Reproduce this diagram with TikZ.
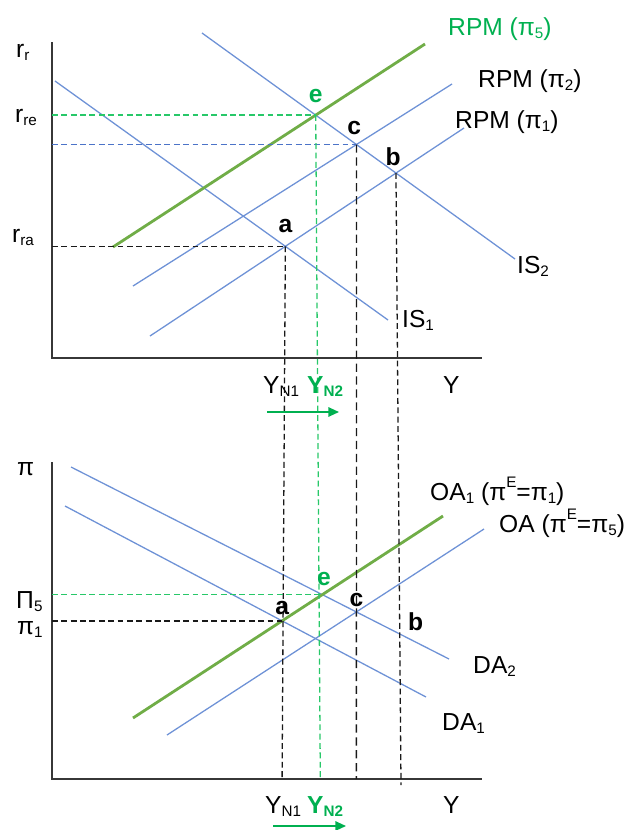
\documentclass[tikz,border=0pt]{standalone}
\usepackage{fontspec}
\setmainfont{Liberation Sans}
\usetikzlibrary{calc,positioning,arrows.meta}
\definecolor{xLineBlue}{RGB}{110,146,214}
\definecolor{xLineGreen}{RGB}{112,173,71}
\definecolor{xTextGreen}{RGB}{0,176,80}
\definecolor{xDashGreen}{RGB}{40,200,105}
\definecolor{xDashBlue}{RGB}{75,115,200}
\definecolor{xAxis}{RGB}{55,55,55}
\newcommand{\subtxt}[1]{\raisebox{-0.15em}{\fontsize{13}{13}\selectfont #1}}
\newcommand{\suptxt}[1]{\raisebox{0.5em}{\fontsize{13}{13}\selectfont #1}}

\begin{document}
\begin{tikzpicture}[x=0.03cm, y=-0.03cm,
    font=\fontsize{21}{25}\selectfont,
    axisline/.style={xAxis, line width=1.3pt},
    curve/.style={xLineBlue, line width=1.1pt},
    shiftcurve/.style={xLineGreen, line width=2.4pt},
    guideline/.style={black!90, line width=1.1pt, dash pattern=on 5pt off 3pt},
    guidegreen/.style={xDashGreen, line width=1.1pt, dash pattern=on 5pt off 3pt},
    guideblue/.style={xDashBlue, line width=1.1pt, dash pattern=on 5pt off 3pt},
    txt/.style={anchor=base west, inner sep=0pt},
    ptlabel/.style={font=\fontsize{21}{25}\selectfont\bfseries, inner sep=1pt},
    shiftarrow/.style={xTextGreen, line width=1.3pt, -{Triangle[length=9pt,width=8pt]}}]
    \useasboundingbox (0,0) rectangle (627,830);

    % top panel: IS and RPM
    \coordinate (yT) at (52,42);
    \coordinate (oT) at (52,358);
    \coordinate (xT) at (482,358);
    \draw[axisline] (yT) -- (oT) -- (xT);

    \coordinate (is1A) at (55,81);   \coordinate (is1B) at (388,320);
    \coordinate (is2A) at (202,33);  \coordinate (is2B) at (515,259);
    \coordinate (rpm1A) at (150,336); \coordinate (rpm1B) at (464,128);
    \coordinate (rpm2A) at (133,286); \coordinate (rpm2B) at (452,84);
    \coordinate (rpm5A) at (113,247); \coordinate (rpm5B) at (425,44);

    \draw[curve] (is1A) -- (is1B);
    \draw[curve] (is2A) -- (is2B);
    \draw[curve] (rpm1A) -- (rpm1B);
    \draw[curve] (rpm2A) -- (rpm2B);
    \draw[shiftcurve] (rpm5A) -- (rpm5B);

    \coordinate (a) at (intersection of is1A--is1B and rpm1A--rpm1B);
    \coordinate (b) at (intersection of is2A--is2B and rpm1A--rpm1B);
    \coordinate (c) at (intersection of is2A--is2B and rpm2A--rpm2B);
    \coordinate (e) at (intersection of is2A--is2B and rpm5A--rpm5B);

    % bottom panel: DA and OA
    \coordinate (yB) at (52,462);
    \coordinate (oB) at (52,779);
    \coordinate (xB) at (482,779);
    \draw[axisline] (yB) -- (oB) -- (xB);

    \coordinate (da1A) at (65,506);  \coordinate (da1B) at (426,697);
    \coordinate (da2A) at (71,467);  \coordinate (da2B) at (449,659);
    \coordinate (oa1A) at (133,718); \coordinate (oa1B) at (443,516);
    \coordinate (oa5A) at (167,735); \coordinate (oa5B) at (484,529);

    \draw[curve] (da1A) -- (da1B);
    \draw[curve] (da2A) -- (da2B);
    \draw[curve] (oa5A) -- (oa5B);
    \draw[shiftcurve] (oa1A) -- (oa1B);

    \coordinate (bEnd) at (401,785);
    \coordinate (a2) at (intersection of da1A--da1B and oa1A--oa1B);
    \coordinate (c2) at (intersection of da2A--da2B and oa5A--oa5B);
    \coordinate (e2) at (intersection of da2A--da2B and oa1A--oa1B);
    \coordinate (b2) at (intersection of da2A--da2B and b--bEnd);

    % dashed guides
    \draw[guidegreen] (oT |- e) -- (e);
    \draw[guideblue] (oT |- c) -- (c);
    \draw[guideline] (oT |- a) -- (a);
    \draw[guideline] (a) -- (a2 |- oB);
    \draw[guidegreen] (e) -- ($(e2 |- oB)+(-2,0)$);
    \draw[guideline, dash pattern=on 7pt off 4pt] (c) -- (c2 |- oB);
    \draw[guideline] (b) -- (bEnd);
    \draw[guidegreen] (oB |- e2) -- (e2);
    \draw[guideline] (oB |- a2) -- (a2);

    % point labels
    \node[ptlabel, xTextGreen, above=9.5pt of e] (labE) {e};
    \node[ptlabel, above=7.5pt of c, xshift=-2pt] (labC) {c};
    \node[ptlabel, above=5pt of b, xshift=-2.5pt] (labB) {b};
    \node[ptlabel, above=10pt of a] (labA) {a};
    \node[ptlabel, xTextGreen, above=6.5pt of e2, xshift=1.5pt] (labE2) {e};
    \node[ptlabel, above=3pt of c2] (labC2) {c};
    \node[ptlabel, above=4pt of a2] (labA2) {a};
    \node[ptlabel, above right=1.5pt and 6pt of b2] (labB2) {b};

    % axis texts
    \node[txt] (rr) at (16,57) {r\subtxt{r}};
    \node[txt] (rre) at (15,122) {r\subtxt{re}};
    \node[txt] (rra) at (12,242) {r\subtxt{ra}};
    \node[txt] (yn1T) at (263,393) {Y\subtxt{N1}};
    \node[txt, xTextGreen, font=\fontsize{21}{25}\selectfont\bfseries] (yn2T) at (307,393) {Y\subtxt{N2}};
    \node[txt] (yT) at (443,393) {Y};
    \node[txt] (piAx) at (17,475) {π};
    \node[txt] (pi5) at (16,608) {Π\subtxt{5}};
    \node[txt] (pi1) at (17,634) {π\subtxt{1}};
    \node[txt] (yn1B) at (265,813) {Y\subtxt{N1}};
    \node[txt, xTextGreen, font=\fontsize{21}{25}\selectfont\bfseries] (yn2B) at (307,813) {Y\subtxt{N2}};
    \node[txt] (yB) at (443,813) {Y};

    % curve texts
    \node[txt, xTextGreen] (rpm5) at (448,35) {RPM (π\subtxt{5})};
    \node[txt] (rpm2) at (478,87) {RPM (π\subtxt{2})};
    \node[txt] (rpm1) at (455,128) {RPM (π\subtxt{1})};
    \node[txt] (is2) at (517,273) {IS\subtxt{2}};
    \node[txt] (is1) at (402,327) {IS\subtxt{1}};
    \node[txt] (oa1) at (430,500) {OA\subtxt{1} (π\suptxt{E}=π\subtxt{1})};
    \node[txt] (oa5) at (499,532) {OA (π\suptxt{E}=π\subtxt{5})};
    \node[txt] (da2) at (473,673) {DA\subtxt{2}};
    \node[txt] (da1) at (442,730) {DA\subtxt{1}};

    % shift of Y_N
    \coordinate (arT1) at (267,412); \coordinate (arT2) at (339,412);
    \coordinate (arB1) at (273,826); \coordinate (arB2) at (346,826);
    \draw[shiftarrow] (arT1) -- (arT2);
    \draw[shiftarrow] (arB1) -- (arB2);
\end{tikzpicture}
\end{document}
